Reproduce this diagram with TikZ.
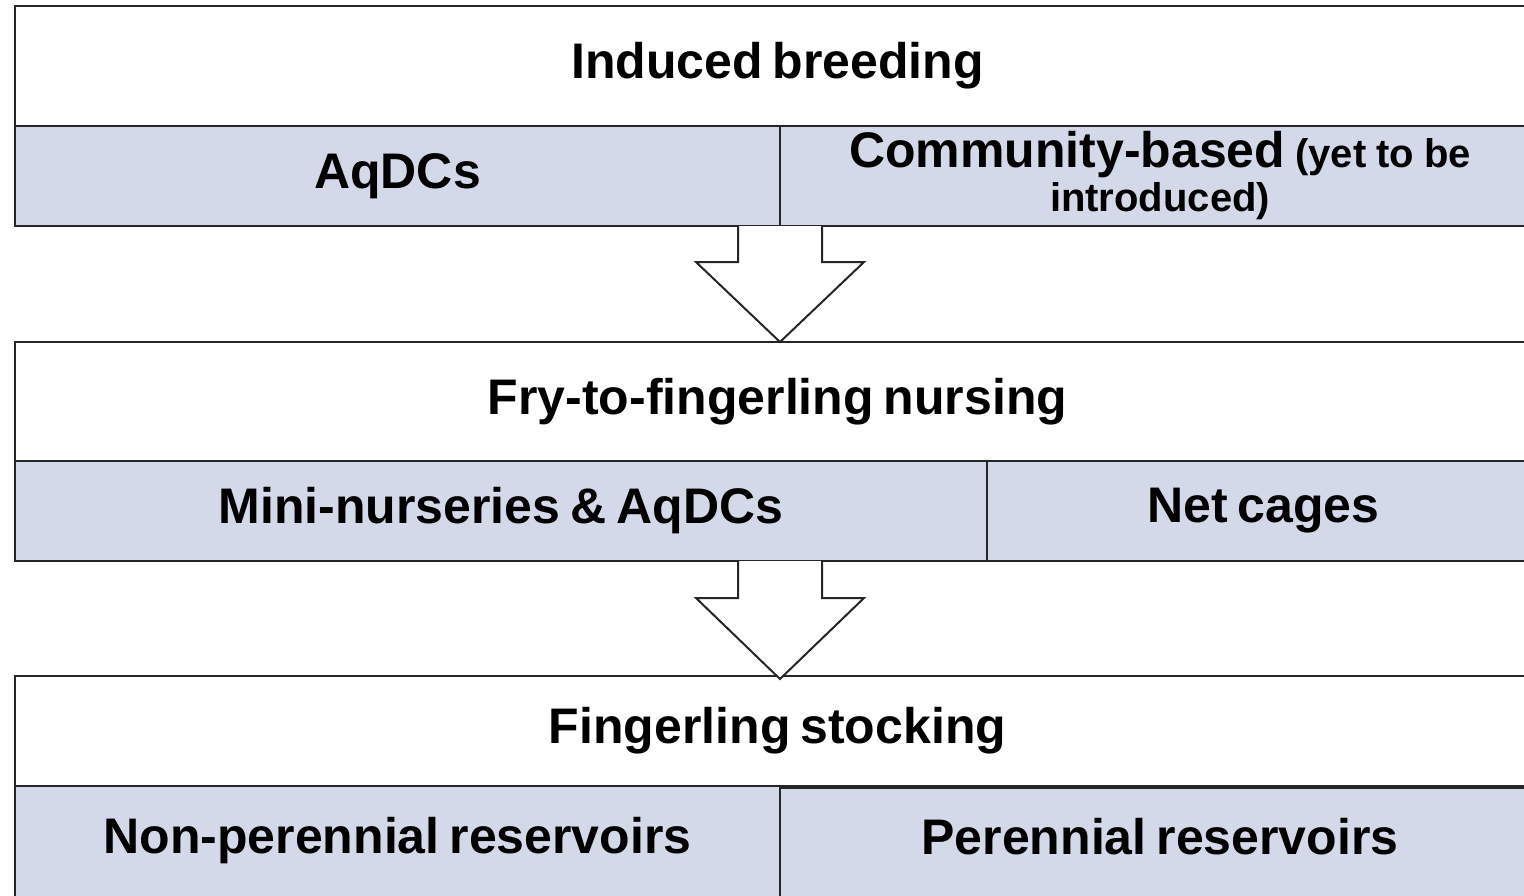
\documentclass[tikz,border=0pt]{standalone}
\usepackage{fontspec}
\setmainfont{Liberation Sans}
\usetikzlibrary{calc}
\definecolor{cellblue}{HTML}{D4D9EA}
\definecolor{linec}{HTML}{262626}
\newcommand\mytightsp{\spaceskip=0.2em\relax}
\begin{document}
\begin{tikzpicture}[x=1pt,y=-1pt,
  box/.style={draw=linec, line width=2pt, anchor=north west, inner sep=0pt, outer sep=0pt,
    font=\fontsize{50}{47}\selectfont\bfseries\mytightsp, align=center},
  headbox/.style={box, fill=white},
  cellbox/.style={box, fill=cellblue},
  bigarrow/.style={draw=linec, line width=2pt, fill=white, line join=miter}]
\clip (0,0) rectangle (1524,895);
\useasboundingbox (0,0) rectangle (1524,895);
% block 1
\node[headbox, minimum width=1525pt, minimum height=120pt] (h1) at (15,6) {Induced breeding};
\node[cellbox, minimum width=765pt, minimum height=100pt] (r1l) at (15,126) {AqDCs};
\node[cellbox, minimum width=760pt, minimum height=100pt] (r1r) at (780,126)
  {Community-based {\fontsize{40}{40}\selectfont(yet to be}\\[-3pt]{\fontsize{40}{40}\selectfont introduced)}};
% block 2
\node[headbox, minimum width=1525pt, minimum height=119pt] (h2) at (15,342) {Fry-to-fingerling nursing};
\node[cellbox, minimum width=972pt, minimum height=100pt] (r2l) at (15,461) {Mini-nurseries \& AqDCs};
\node[cellbox, minimum width=553pt, minimum height=100pt] (r2r) at (987,461) {Net cages};
% block 3
\node[headbox, minimum width=1525pt, minimum height=110pt] (h3) at (15,676) {Fingerling stocking};
\node[cellbox, minimum width=765pt, minimum height=116pt] (r3l) at (15,786)
  {\raisebox{0pt}[\height][\dimexpr\depth+6pt\relax]{Non-perennial reservoirs}};
\node[cellbox, minimum width=760pt, minimum height=114pt] (r3r) at (780,788)
  {\raisebox{0pt}[\height][\dimexpr\depth+16pt\relax]{Perennial reservoirs}};
% arrows
\coordinate (a1) at (r1l.south east);
\coordinate (t1) at (a1 |- h2.north);
\draw[bigarrow] ($(a1)+(-42,0)$) -- ++(0,36) -- ++(-42,0) -- (t1) -- ($(a1)+(84,36)$) -- ++(-42,0) -- ($(a1)+(42,0)$);
\coordinate (a2) at (a1 |- r2l.south);
\coordinate (t2) at ($(a2 |- h3.north)+(0,3)$);
\draw[bigarrow] ($(a2)+(-42,0)$) -- ++(0,37) -- ++(-42,0) -- (t2) -- ($(a2)+(84,37)$) -- ++(-42,0) -- ($(a2)+(42,0)$);
\end{tikzpicture}
\end{document}
